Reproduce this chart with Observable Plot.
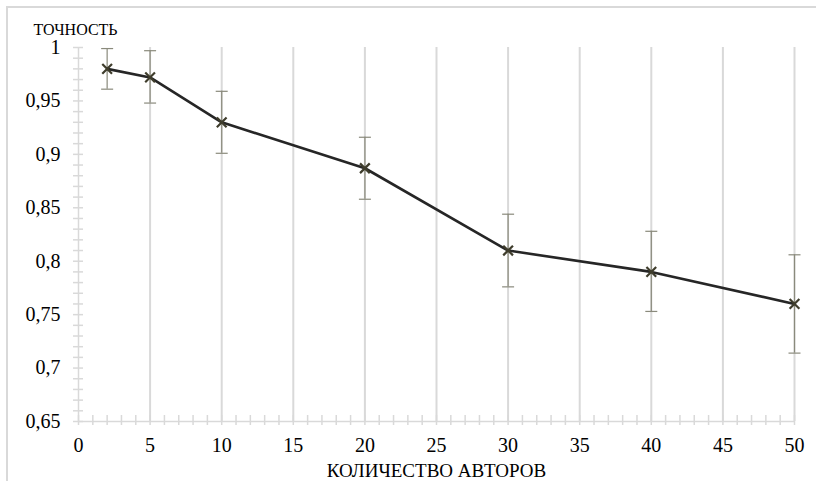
<!DOCTYPE html>
<html><head><meta charset="utf-8">
<script src="https://cdn.jsdelivr.net/npm/d3@7"></script>
<script src="https://cdn.jsdelivr.net/npm/@observablehq/plot@0.6"></script>
<style>
html,body{margin:0;padding:0;background:#fff;overflow:hidden;font-family:'Liberation Serif',serif;}
#wrap{position:relative;width:816px;height:481px;overflow:hidden;background:#fff;}
#frame{position:absolute;left:6px;top:6px;width:860px;height:540px;border:2px solid #d9d9d9;box-sizing:border-box;}
#wrap svg{position:absolute;left:0;top:0;}
#wrap svg text{font-family:'Liberation Serif',serif !important;}
</style></head><body><div id="wrap"><div id="frame"></div></div>
<script>
const authors  = [2, 5, 10, 20, 30, 40, 50];
const accuracy = [0.980, 0.972, 0.930, 0.887, 0.810, 0.790, 0.760];
const errLow   = [0.961, 0.948, 0.901, 0.858, 0.776, 0.753, 0.714];
const errHigh  = [0.999, 0.997, 0.959, 0.916, 0.844, 0.828, 0.806];
const xTicks = [0, 5, 10, 15, 20, 25, 30, 35, 40, 45, 50];
const xGrid  = [5, 10, 15, 20, 25, 30, 35, 40, 45, 50];
const yTicks = [0.65, 0.7, 0.75, 0.8, 0.85, 0.9, 0.95, 1];
const yLabel = "ТОЧНОСТЬ";
const xLabel = "КОЛИЧЕСТВО АВТОРОВ";

const xMinor = d3.range(0, 51);
const yMinor = d3.range(65, 101).map(d => d / 100);

const data = authors.map((a, i) => ({a, v: accuracy[i], lo: errLow[i], hi: errHigh[i]}));
const fmt = d => String(d).replace(".", ",");
const cap = {draw(ctx, size) { const r = Math.sqrt(size / Math.PI); ctx.moveTo(-r, 0); ctx.lineTo(r, 0); }};
const grid = "#d9d9d9";
const serif = "Liberation Serif";

const chart = Plot.plot({
  width: 816, height: 481,
  marginLeft: 78, marginRight: 22, marginTop: 47, marginBottom: 60,
  x: {domain: [0, 50]},
  y: {domain: [0.65, 1]},
  style: {fontFamily: serif, fontSize: "20px", background: "transparent", color: "#000", overflow: "visible"},
  marks: [
    Plot.ruleX(xGrid, {x: d => d, y1: 0.65, y2: 1, stroke: grid, strokeWidth: 2}),
    Plot.ruleX([0], {x: d => d, y1: 0.65, y2: 1, stroke: grid, strokeWidth: 1.5}),
    Plot.ruleY([0.65], {y: d => d, x1: 0, x2: 50, stroke: grid, strokeWidth: 1.5}),
    Plot.axisY(yMinor, {tickSize: 10, dx: 5, tickFormat: () => "", stroke: grid, strokeWidth: 1.5, label: null}),
    Plot.axisX(xMinor, {tickSize: 10, dy: -6, tickFormat: () => "", stroke: grid, strokeWidth: 1.5, label: null}),
    Plot.axisY(yTicks, {tickSize: 0, tickPadding: 18, tickFormat: fmt, fontSize: 20, fontFamily: serif, label: null}),
    Plot.axisX(xTicks, {tickSize: 0, tickPadding: 16, tickFormat: d => String(d), fontSize: 20, fontFamily: serif, label: null}),
    Plot.ruleX(data, {x: "a", y1: "lo", y2: "hi", stroke: "#8a8a7c", strokeWidth: 1.2}),
    Plot.dot(data, {x: "a", y: "lo", symbol: cap, r: 6, fill: "none", stroke: "#8a8a7c", strokeWidth: 1.2}),
    Plot.dot(data, {x: "a", y: "hi", symbol: cap, r: 6, fill: "none", stroke: "#8a8a7c", strokeWidth: 1.2}),
    Plot.line(data, {x: "a", y: "v", stroke: "#262626", strokeWidth: 2.6}),
    Plot.dot(data, {x: "a", y: "v", symbol: "times", r: 4.5, fill: "none", stroke: "#3f3d2c", strokeWidth: 2.2}),
    Plot.text([yLabel], {text: d => d, frameAnchor: "top-left", dx: -45, dy: -13, textAnchor: "start", lineAnchor: "bottom", fontSize: 16, fontFamily: serif, fill: "#000"}),
    Plot.text([xLabel], {text: d => d, frameAnchor: "bottom", dy: 55, lineAnchor: "bottom", fontSize: 19, fontFamily: serif, fill: "#000"})
  ]
});
chart.setAttribute("font-family", serif);
chart.querySelectorAll("g, text").forEach(t => t.setAttribute("font-family", serif));
document.getElementById("wrap").appendChild(chart);
</script></body></html>
